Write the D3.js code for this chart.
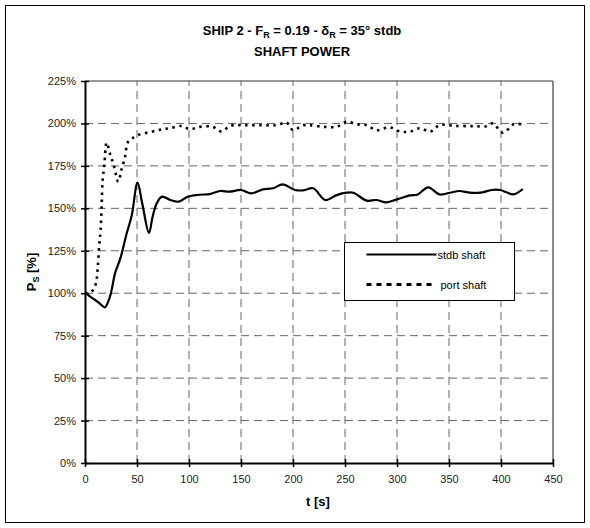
<!DOCTYPE html>
<html>
<head>
<meta charset="utf-8">
<script src="https://cdn.jsdelivr.net/npm/d3@7"></script>
<style>
body { margin: 0; background: #fff; }
svg { font-family: "Liberation Sans", Arial, sans-serif; }
</style>
</head>
<body>
<div id="chart"></div>
<script>
var W = 590, H = 528;
var margin = {left: 85, right: 37, top: 81, bottom: 65};

var xTicks = [0, 50, 100, 150, 200, 250, 300, 350, 400, 450];
var yTicks = [0, 25, 50, 75, 100, 125, 150, 175, 200, 225];

// stdb shaft (solid)
var stdbT = [0, 5, 10, 15, 19, 24, 29, 34, 40, 45, 50.5, 55, 61.5, 65, 69, 74, 82, 90, 99, 110, 120, 130, 139, 150, 160, 171, 181, 190, 202, 210, 219.5, 231, 242, 251.6, 258, 271, 280, 290, 300, 312.5, 320, 330, 341, 351, 360, 370, 380, 391, 399, 404, 412, 421];
var stdbP = [100.5, 98, 96, 93.5, 91.7, 98, 112, 120.5, 135, 146, 165.2, 153, 135.5, 145, 153, 156.9, 154.9, 153.9, 156.9, 158, 158.4, 160.2, 159.8, 160.8, 158.8, 161.2, 161.8, 164.1, 160.8, 160.6, 161.8, 154.9, 157.8, 159.2, 159.2, 154.5, 154.9, 153.5, 155.3, 157.6, 158.2, 162.4, 158.2, 159.2, 160.2, 159.2, 159.2, 160.8, 160.8, 159.8, 158.2, 161.4];

// port shaft (dotted)
var portT = [0, 5, 8, 10.6, 12.2, 13.7, 15, 16, 17, 18.6, 20.8, 24, 28, 32, 35, 38.5, 41, 45, 51, 64, 74, 82, 93, 101, 110, 123, 131, 140, 152, 168, 184, 194, 200, 210, 216, 230, 242, 251.6, 261, 271, 280, 293, 303, 312.5, 322, 332, 341, 355, 373, 386, 392, 402, 412, 420];
var portP = [100, 100.5, 102, 106, 114.7, 128.4, 137, 151.4, 166.7, 175.5, 188.7, 182.4, 174.5, 165.7, 172.6, 180.4, 188.7, 191, 193.2, 195.1, 196.5, 197.2, 198.5, 196.6, 198, 198, 195.3, 198.7, 199, 199, 199, 200.4, 196.1, 199, 199, 198, 198, 201, 199.5, 199, 196, 197.7, 195.2, 195.2, 197.2, 195.2, 199, 198.6, 198.4, 198.4, 200, 194.5, 199.5, 199.5];

var series = [
	{name: 'stdb shaft', t: stdbT, p: stdbP, dash: null},
	{name: 'port shaft', t: portT, p: portP, dash: '2.5,4.5'}
];

var svg = d3.select('#chart')
			.append('svg')
			.attr('width', W)
			.attr('height', H);

svg.append('rect')
	.attr('x', 5.5).attr('y', 5.5)
	.attr('width', 579).attr('height', 517)
	.attr('fill', '#fff')
	.attr('stroke', '#000')
	.attr('stroke-width', 1);

var x = d3.scaleLinear().domain([0, 450]).range([margin.left, W - margin.right]);
var y = d3.scaleLinear().domain([0, 225]).range([H - margin.bottom, margin.top]);

// gridlines
svg.selectAll('.hgrid')
	.data(yTicks.filter(function(d) { return d > 0 && d < 225; }))
	.enter()
	.append('line')
	.attr('x1', x(0)).attr('x2', x(450))
	.attr('y1', function(d) { return y(d); })
	.attr('y2', function(d) { return y(d); })
	.attr('stroke', '#666')
	.attr('stroke-dasharray', '8,5');

svg.selectAll('.vgrid')
	.data(xTicks.filter(function(d) { return d > 0 && d < 450; }))
	.enter()
	.append('line')
	.attr('y1', y(0)).attr('y2', y(225))
	.attr('x1', function(d) { return x(d); })
	.attr('x2', function(d) { return x(d); })
	.attr('stroke', '#666')
	.attr('stroke-dasharray', '8,5');

// plot frame top & right
svg.append('line')
	.attr('x1', x(0)).attr('x2', x(450))
	.attr('y1', y(225)).attr('y2', y(225))
	.attr('stroke', '#333');
svg.append('line')
	.attr('x1', x(450)).attr('x2', x(450))
	.attr('y1', y(225)).attr('y2', y(0))
	.attr('stroke', '#666')
	.attr('stroke-width', 1.5);

// axes
var xAxis = d3.axisBottom(x)
				.tickValues(xTicks)
				.tickSizeInner(4).tickSizeOuter(0)
				.tickPadding(6)
				.tickFormat(d3.format('d'));
var yAxis = d3.axisLeft(y)
				.tickValues(yTicks)
				.tickSizeInner(4).tickSizeOuter(0)
				.tickPadding(5)
				.tickFormat(function(d) { return d + '%'; });

var gx = svg.append('g')
	.attr('transform', 'translate(0,' + y(0) + ')')
	.call(xAxis);
var gy = svg.append('g')
	.attr('transform', 'translate(' + x(0) + ',0)')
	.call(yAxis);

[gx, gy].forEach(function(g) {
	g.select('.domain').attr('stroke', '#000').attr('stroke-width', 2);
	g.selectAll('.tick text').attr('font-size', 11).attr('fill', '#222')
		.attr('font-family', '"Liberation Sans", Arial, sans-serif');
	g.selectAll('.tick line').attr('stroke', '#000').attr('stroke-width', 1.5);
});
// cross ticks
gx.selectAll('.tick line').attr('y1', -4).attr('y2', 4);
gx.selectAll('.tick text').attr('dy', '0.9em');
gy.selectAll('.tick line').attr('x1', -4).attr('x2', 4);

// lines
var line = d3.line()
			.x(function(d) { return x(d[0]); })
			.y(function(d) { return y(d[1]); })
			.curve(d3.curveCatmullRom.alpha(0.5));

series.forEach(function(s) {
	var pts = s.t.map(function(t, i) { return [t, s.p[i]]; });
	svg.append('path')
		.attr('d', line(pts))
		.attr('fill', 'none')
		.attr('stroke', '#000')
		.attr('stroke-width', s.dash ? 2.6 : 2.2)
		.attr('stroke-dasharray', s.dash);
});

// legend
var lg = svg.append('g').attr('transform', 'translate(344.5,242.5)');
lg.append('rect')
	.attr('width', 170).attr('height', 58)
	.attr('fill', '#fff')
	.attr('stroke', '#000');
series.forEach(function(s, i) {
	var yy = 12 + i * 30;
	lg.append('line')
		.attr('x1', 22).attr('x2', i ? 88 : 92)
		.attr('y1', yy).attr('y2', yy)
		.attr('stroke', '#000')
		.attr('stroke-width', i ? 3 : 2)
		.attr('stroke-dasharray', i ? '5,5' : null);
	lg.append('text')
		.attr('x', i ? 96 : 93).attr('y', yy + 4)
		.attr('font-size', 11)
		.text(s.name);
});

// title
var title = svg.append('text')
	.attr('x', 302).attr('y', 35)
	.attr('text-anchor', 'middle')
	.attr('font-size', 13)
	.attr('font-weight', 'bold');
title.append('tspan').text('SHIP 2 - F');
title.append('tspan').attr('font-size', 9).attr('dy', 3).text('R');
title.append('tspan').attr('dy', -3).text(' = 0.19 - δ');
title.append('tspan').attr('font-size', 9).attr('dy', 3).text('R');
title.append('tspan').attr('dy', -3).text(' = 35° stdb');

svg.append('text')
	.attr('x', 302).attr('y', 56)
	.attr('text-anchor', 'middle')
	.attr('font-size', 13)
	.attr('font-weight', 'bold')
	.text('SHAFT POWER');

// axis titles
svg.append('text')
	.attr('x', 318).attr('y', 506)
	.attr('text-anchor', 'middle')
	.attr('font-size', 13)
	.attr('font-weight', 'bold')
	.text('t [s]');

var yl = svg.append('text')
	.attr('transform', 'translate(36,' + y(112.5) + ') rotate(-90)')
	.attr('text-anchor', 'middle')
	.attr('font-size', 13)
	.attr('font-weight', 'bold');
yl.append('tspan').text('P');
yl.append('tspan').attr('font-size', 9).attr('dy', 3).text('S');
yl.append('tspan').attr('dy', -3).text(' [%]');
</script>
</body>
</html>
